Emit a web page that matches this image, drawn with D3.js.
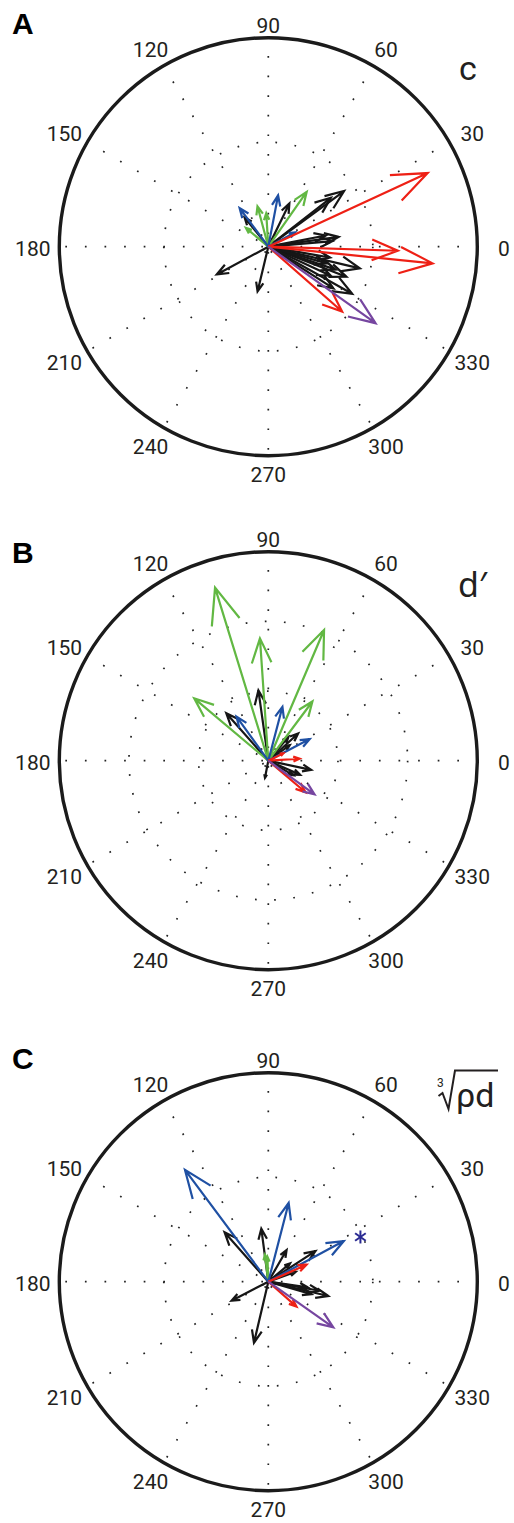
<!DOCTYPE html>
<html>
<head>
<meta charset="utf-8">
<script src="https://cdn.jsdelivr.net/npm/d3@7"></script>
<style>
  body { margin: 0; background: #fff; }
  text { font-family: Roboto, "Noto Sans", sans-serif; fill: #231f20; }
</style>
</head>
<body>
<script>
var w = 514,
    h = 1523;

var R = 209; // outer circle radius in px

// series (colour groups), drawn in this order
var groups = ['black', 'green', 'blue', 'red', 'purple'];

// angle tick labels
var angleTicks = [0, 30, 60, 90, 120, 150, 180, 210, 240, 270, 300, 330];

// Panel A (c): [angle deg, magnitude, group]
var arrowsA = [
  [36.3, 0.45, 'black'], [38, 0.38, 'black'], [64, 0.23, 'black'], [129, 0.18, 'black'],
  [208.3, 0.28, 'black'], [256.5, 0.22, 'black'], [8, 0.34, 'black'], [5, 0.31, 'black'],
  [11, 0.28, 'black'], [-13.3, 0.45, 'black'], [-29.3, 0.46, 'black'], [-21, 0.40, 'black'],
  [-18.8, 0.34, 'black'], [-16, 0.29, 'black'], [-32.6, 0.37, 'black'], [-25, 0.33, 'black'],
  [-10, 0.30, 'black'],
  [55, 0.32, 'green'], [105, 0.20, 'green'], [93.5, 0.16, 'green'], [140, 0.14, 'green'],
  [126.6, 0.23, 'blue'], [79.2, 0.25, 'blue'], [28, 0.145, 'blue'],
  [24.8, 0.84, 'red'], [-1.8, 0.62, 'red'], [-5.8, 0.79, 'red'], [-41.3, 0.47, 'red'],
  [-35.5, 0.63, 'purple']
];
var ringsA = [0.5];

// Panel B (d')
var arrowsB = [
  [98, 1.02, 'black'], [131.5, 0.91, 'black'], [42.4, 0.58, 'black'], [50, 0.45, 'black'],
  [36, 0.38, 'black'], [-12, 0.63, 'black'], [-24, 0.50, 'black'], [259, 0.25, 'black'],
  [-30, 0.42, 'black'],
  [107.1, 2.60, 'green'], [93.9, 1.76, 'green'], [66.9, 2.04, 'green'], [139.9, 1.39, 'green'],
  [53.3, 1.06, 'green'],
  [75.3, 0.80, 'blue'], [125.8, 0.78, 'blue'], [27.6, 0.67, 'blue'],
  [3.6, 0.45, 'red'], [-40.3, 0.70, 'red'], [26, 0.24, 'red'],
  [-36.1, 0.82, 'purple']
];
var ringsB = [1, 2];

// Panel C (cube root of rho*d)
var arrowsC = [
  [131.5, 0.316, 'black'], [97.5, 0.256, 'black'], [207.4, 0.198, 'black'], [256.8, 0.30, 'black'],
  [60, 0.175, 'black'], [33, 0.269, 'black'], [40, 0.136, 'black'], [-13.4, 0.295, 'black'],
  [-10, 0.249, 'black'], [-16, 0.215, 'black'], [-8, 0.19, 'black'], [20, 0.14, 'black'],
  [97, 0.13, 'green'], [92, 0.12, 'green'],
  [126.7, 0.667, 'blue'], [75.5, 0.389, 'blue'], [28.3, 0.41, 'blue'],
  [24, 0.20, 'red'], [-41.5, 0.18, 'red'],
  [-35.1, 0.38, 'purple']
];
var ringsC = [0.5];
var starC = [25.9, 0.49]; // significance marker

var color = d3.scaleOrdinal()
              .domain(groups)
              .range(['#161616', '#62b843', '#1f50a3', '#ee2015', '#7646a0']);

var panels = [
  { letter: 'A', arrows: arrowsA, rings: ringsA, rmax: 1, cx: 268.3, cy: 246.7, letterY: 34 },
  { letter: 'B', arrows: arrowsB, rings: ringsB, rmax: 3, cx: 268.3, cy: 760.7, letterY: 563 },
  { letter: 'C', arrows: arrowsC, rings: ringsC, rmax: 1, cx: 268.3, cy: 1281.7, letterY: 1069, star: starC }
];

var svg = d3.select('body')
            .append('svg')
            .attr('width', w)
            .attr('height', h);

// compass arrow shape (same proportions as matlab compass)
var shape = [[0, 0], [1, 0], [0.8, 0.08], [1, 0], [0.8, -0.08]];
var line = d3.line();

function rad(deg) { return deg * Math.PI / 180; }

panels.forEach(function(p) {
  var r = d3.scaleLinear().domain([0, p.rmax]).range([0, R]);

  var g = svg.append('g')
             .attr('transform', 'translate(' + p.cx + ',' + p.cy + ')');

  // dotted spokes
  g.selectAll('line.spoke')
   .data(angleTicks.filter(function(a) { return a < 180; }))
   .enter()
   .append('line')
   .attr('class', 'spoke')
   .attr('x1', function(a) { return -R * Math.cos(rad(a)); })
   .attr('y1', function(a) { return R * Math.sin(rad(a)); })
   .attr('x2', function(a) { return R * Math.cos(rad(a)); })
   .attr('y2', function(a) { return -R * Math.sin(rad(a)); })
   .style('stroke', '#222')
   .style('stroke-width', 1.7)
   .style('stroke-dasharray', '1.7 17.9')
   .style('stroke-dashoffset', -6);

  // dotted rings
  g.selectAll('circle.ring')
   .data(p.rings)
   .enter()
   .append('circle')
   .attr('class', 'ring')
   .attr('r', function(d) { return r(d); })
   .style('fill', 'none')
   .style('stroke', '#222')
   .style('stroke-width', 1.7)
   .style('stroke-dasharray', '1.7 17.5');

  // outer circle
  g.append('circle')
   .attr('r', R)
   .style('fill', 'none')
   .style('stroke', '#1b1b1b')
   .style('stroke-width', 3.4);

  // angle labels
  g.selectAll('text.tick')
   .data(angleTicks)
   .enter()
   .append('text')
   .attr('class', 'tick')
   .attr('x', function(a) { return 235.5 * Math.cos(rad(a)); })
   .attr('y', function(a) {
      var ry = a === 90 ? 223 : (a === 270 ? 227 : 229.5); // 90 sits closer to the rim
      return -ry * Math.sin(rad(a)) + 1.3 + 7.5;
    })
   .attr('text-anchor', 'middle')
   .style('font-size', '21px')
   .text(function(a) { return a; });

  // arrows, black first so colours sit on top
  var sorted = p.arrows.slice().sort(function(a, b) {
    return groups.indexOf(a[2]) - groups.indexOf(b[2]);
  });

  g.selectAll('path.arrow')
   .data(sorted)
   .enter()
   .append('path')
   .attr('class', 'arrow')
   .attr('d', function(d) {
      var a = rad(d[0]), m = d[1];
      return line(shape.map(function(s) {
        var x = m * (s[0] * Math.cos(a) - s[1] * Math.sin(a));
        var y = m * (s[0] * Math.sin(a) + s[1] * Math.cos(a));
        return [r(x), -r(y)];
      }));
    })
   .style('fill', 'none')
   .style('stroke', function(d) { return color(d[2]); })
   .style('stroke-width', 2.2)
   .style('stroke-linejoin', 'miter');

  // asterisk marker
  if (p.star) {
    var sx = r(p.star[1] * Math.cos(rad(p.star[0]))),
        sy = -r(p.star[1] * Math.sin(rad(p.star[0])));
    var ast = g.append('g').attr('transform', 'translate(' + sx + ',' + sy + ')');
    [90, 35, 145].forEach(function(a) {
      ast.append('line')
         .attr('x1', -6.5 * Math.cos(rad(a)))
         .attr('y1', 6.5 * Math.sin(rad(a)))
         .attr('x2', 6.5 * Math.cos(rad(a)))
         .attr('y2', -6.5 * Math.sin(rad(a)))
         .style('stroke', '#2a2a92')
         .style('stroke-width', 2);
    });
  }

  // panel letter
  svg.append('text')
     .attr('x', 12)
     .attr('y', p.letterY)
     .style('font-family', '"Liberation Sans", Arial, sans-serif')
     .style('font-weight', 'bold')
     .style('font-size', '30px')
     .style('fill', '#000')
     .text(p.letter);
});

// measure names
svg.append('text')
   .attr('x', 459)
   .attr('y', 80)
   .style('font-size', '34px')
   .text('c');

svg.append('text')
   .attr('x', 458)
   .attr('y', 596.5)
   .style('font-size', '34px')
   .style('font-family', '"Noto Sans", Roboto, sans-serif')
   .text('d\u2032');

// cube root of rho d
svg.append('path')
   .attr('d', 'M438.5,1096 L442.5,1093 L448.5,1109 L455,1070.5 L498,1070.5')
   .style('fill', 'none')
   .style('stroke', '#231f20')
   .style('stroke-width', 2);

svg.append('text')
   .attr('x', 437)
   .attr('y', 1087)
   .style('font-size', '12px')
   .text('3');

svg.append('text')
   .attr('x', 456)
   .attr('y', 1107)
   .style('font-size', '34px')
   .text('\u03c1d');
</script>
</body>
</html>
